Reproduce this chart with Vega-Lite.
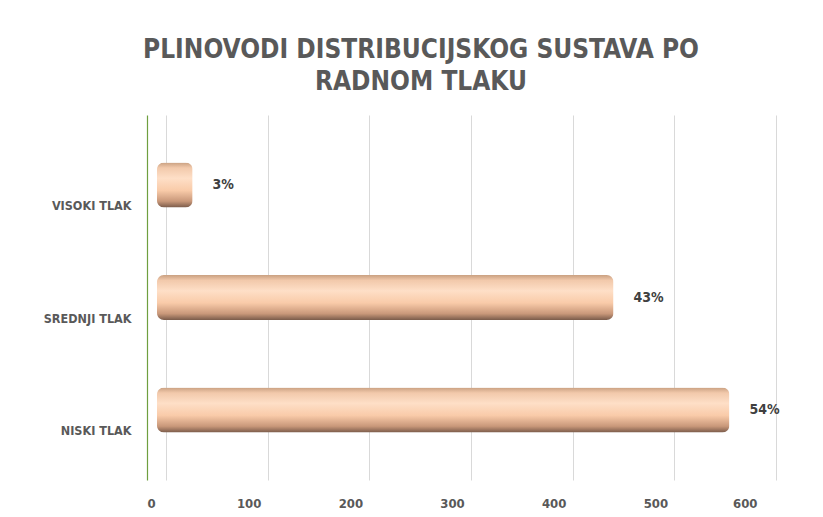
{
  "$schema": "https://vega.github.io/schema/vega-lite/v6.json",
  "width": 630,
  "height": 365,
  "autosize": {"type": "none"},
  "padding": {"left": 147, "top": 115, "right": 46, "bottom": 37},
  "background": "white",
  "config": {
    "view": {"stroke": null},
    "axisY": {"domainColor": "#6f9f3f", "domainWidth": 1.2, "ticks": false}
  },
  "title": {
    "text": ["PLINOVODI DISTRIBUCIJSKOG SUSTAVA PO", "RADNOM TLAKU"],
    "font": "DejaVu Sans Condensed, sans-serif",
    "fontSize": 26,
    "fontWeight": "bold",
    "color": "#595959",
    "anchor": "middle",
    "frame": "group",
    "dx": -41,
    "offset": 20,
    "lineHeight": 32
  },
  "data": {
    "values": [
      {"kategorija": "VISOKI TLAK", "duljina": 35, "udio": "3%"},
      {"kategorija": "SREDNJI TLAK", "duljina": 449, "udio": "43%"},
      {"kategorija": "NISKI TLAK", "duljina": 563, "udio": "54%"}
    ]
  },
  "layer": [
    {
      "mark": {"type": "rule", "opacity": 0},
      "encoding": {
        "x": {
          "field": "duljina", "type": "quantitative",
          "scale": {"domain": [0, 600], "range": [19, 629], "nice": false},
          "axis": {
            "orient": "top", "values": [0, 100, 200, 300, 400, 500, 600],
            "grid": true, "gridColor": "#d9d9d9", "gridWidth": 1,
            "labels": false, "ticks": false, "domain": false, "title": null
          }
        }
      }
    },
    {
      "mark": {"type": "rule", "opacity": 0},
      "encoding": {
        "x": {
          "field": "duljina", "type": "quantitative",
          "scale": {"domain": [0, 600], "range": [0, 610], "nice": false},
          "axis": {
            "orient": "bottom", "values": [0, 100, 200, 300, 400, 500, 600],
            "grid": false, "ticks": false, "domain": false, "title": null,
            "labelPadding": 17,
            "labelFont": "DejaVu Sans Condensed, sans-serif",
            "labelFontSize": 13, "labelFontWeight": "bold", "labelColor": "#595959"
          }
        }
      }
    },
    {
      "mark": {
        "type": "bar",
        "height": {"band": 0.4},
        "cornerRadius": 7,
        "fill": {
          "x1": 0, "y1": 0, "x2": 0, "y2": 1,
          "gradient": "linear",
          "stops": [
            {"offset": 0, "color": "#c9a081"},
            {"offset": 0.12, "color": "#f2c9ab"},
            {"offset": 0.35, "color": "#fedfc7"},
            {"offset": 0.62, "color": "#f9cba9"},
            {"offset": 0.86, "color": "#c9987a"},
            {"offset": 1, "color": "#7a5b4a"}
          ]
        }
      },
      "encoding": {
        "y": {
          "field": "kategorija", "type": "nominal",
          "sort": ["VISOKI TLAK", "SREDNJI TLAK", "NISKI TLAK"],
          "scale": {"paddingInner": 0, "paddingOuter": 0.122},
          "axis": {
            "title": null, "ticks": false,
            "domainColor": "#6f9f3f",
            "labelOffset": 21, "labelPadding": 16,
            "labelFont": "DejaVu Sans Condensed, sans-serif",
            "labelFontSize": 12.5, "labelFontWeight": "bold", "labelColor": "#595959"
          }
        },
        "x": {
          "field": "duljina", "type": "quantitative",
          "scale": {"domain": [0, 600], "range": [10, 620], "nice": false},
          "axis": null
        }
      }
    },
    {
      "mark": {
        "type": "text", "align": "left", "baseline": "middle", "dx": 20,
        "font": "DejaVu Sans Condensed, sans-serif",
        "fontSize": 14, "fontWeight": "bold", "color": "#404040"
      },
      "encoding": {
        "y": {
          "field": "kategorija", "type": "nominal",
          "sort": ["VISOKI TLAK", "SREDNJI TLAK", "NISKI TLAK"]
        },
        "x": {
          "field": "duljina", "type": "quantitative",
          "scale": {"domain": [0, 600], "range": [10, 620], "nice": false},
          "axis": null
        },
        "text": {"field": "udio"}
      }
    }
  ],
  "resolve": {"scale": {"x": "independent"}, "axis": {"x": "independent"}}
}
